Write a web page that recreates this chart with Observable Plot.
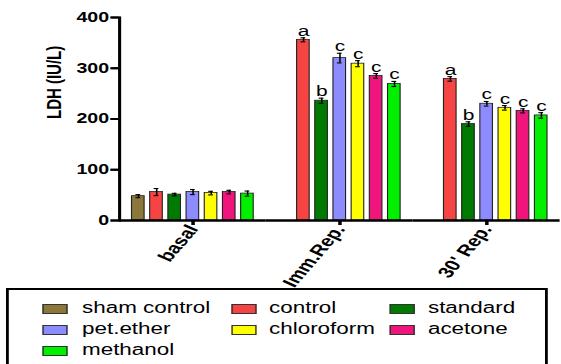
<!DOCTYPE html>
<html>
<head>
<meta charset="utf-8">
<script src="https://cdn.jsdelivr.net/npm/d3@7"></script>
<script src="https://cdn.jsdelivr.net/npm/@observablehq/plot@0.6"></script>
<style>
  body { margin: 0; background: #fff; font-family: "Liberation Sans", Arial, sans-serif; }
  #wrap { position: relative; width: 561px; height: 364px; overflow: hidden; }
  #legend { position: absolute; left: 6px; top: 288px; width: 387px; height: 100px; border: 2px solid #000;
            box-sizing: border-box; transform: scaleX(1.4); transform-origin: 0 0; background: #fff; }
  .item { position: absolute; font-size: 16px; line-height: 16px; white-space: nowrap; color: #000; }
  .sw { position: absolute; width: 17.9px; height: 10px; border: 1px solid #333; box-sizing: border-box; }
</style>
</head>
<body>
<div id="wrap"><div id="chart"></div><div id="legend"></div></div>
<script>
const groups = ["basal", "Imm.Rep.", "30' Rep."];
const series = ["sham control", "control", "standard", "pet.ether", "chloroform", "acetone", "methanol"];
const colors = ["#8B773A", "#F64444", "#007A00", "#8C8CFF", "#FFFF00", "#F0157C", "#00F000"];
const yTicks = [0, 100, 200, 300, 400];
const yLabel = "LDH (IU/L)";
// values per series for [basal, Imm.Rep., 30' Rep.]
const shamControl = [48, null, null];
const control     = [56, 356, 279];
const standard    = [51, 236, 190];
const petEther    = [56, 320, 230];
const chloroform  = [54, 309, 222];
const acetone     = [56, 285, 216];
const methanol    = [53, 269, 207];
// error (±) per series
const errSham       = [3, null, null];
const errControl    = [7, 4, 4.5];
const errStandard   = [2.5, 5, 4.5];
const errPetEther   = [5, 9.5, 4.5];
const errChloroform = [3.5, 6, 4.5];
const errAcetone    = [3.5, 4.5, 4];
const errMethanol   = [5, 5, 5.5];
// significance letters
const letters = {
  "control":    ["", "a", "a"],
  "standard":   ["", "b", "b"],
  "pet.ether":  ["", "c", "c"],
  "chloroform": ["", "c", "c"],
  "acetone":    ["", "c", "c"],
  "methanol":   ["", "c", "c"]
};

const vals = [shamControl, control, standard, petEther, chloroform, acetone, methanol];
const errs = [errSham, errControl, errStandard, errPetEther, errChloroform, errAcetone, errMethanol];
const data = [];
series.forEach((s, i) => groups.forEach((g, j) => {
  if (vals[i][j] != null) data.push({series: s, group: g, value: vals[i][j], err: errs[i][j],
    letter: (letters[s] || [])[j] || ""});
}));

const W = 401, H = 290, ML = 84, MR = 0, TICK = 6;
const facetW = (W - ML - MR) / groups.length;
const chart = Plot.plot({
  width: W, height: H,
  marginLeft: ML, marginRight: MR, marginTop: 17, marginBottom: 70,
  style: {fontFamily: "'Liberation Sans', Arial, sans-serif", color: "#000", background: "#fff", overflow: "visible"},
  fx: {domain: groups, padding: 0},
  x: {domain: series, paddingInner: 0.316, paddingOuter: 0.553, axis: null},
  y: {domain: [0, 400]},
  color: {domain: series, range: colors},
  marks: [
    Plot.barY(data, {fx: "group", x: "series", y: "value", fill: "series", stroke: "#222", strokeWidth: 0.8}),
    Plot.ruleX(data, {fx: "group", x: "series", y1: d => d.value - d.err, y2: d => d.value + d.err, stroke: "#000", strokeWidth: 1.1}),
    Plot.tickY(data, {fx: "group", x: "series", y: d => d.value + d.err, insetLeft: 2.8, insetRight: 2.8, stroke: "#000", strokeWidth: 1.1}),
    Plot.tickY(data, {fx: "group", x: "series", y: d => d.value - d.err, insetLeft: 2.8, insetRight: 2.8, stroke: "#000", strokeWidth: 1.1}),
    Plot.text(data.filter(d => d.letter), {fx: "group", x: "series", y: d => d.value + d.err, text: "letter",
      dy: -2, lineAnchor: "bottom", fontSize: 15, fill: "#000"}),
    Plot.ruleY([0], {stroke: "#000", strokeWidth: 2.5}),
    Plot.frame({anchor: "left", facetAnchor: "left", stroke: "#000", strokeWidth: 2.2}),
    // y tick marks: a short rule in the leftmost facet, shifted into the left margin
    Plot.ruleY(yTicks, {y: d => d, facetAnchor: "left", insetRight: facetW - TICK, dx: -TICK,
      stroke: "#000", strokeWidth: 2, clip: false}),
    Plot.axisY(yTicks, {tickSize: TICK, tickPadding: 1.5, fontSize: 14, fontWeight: "bold", stroke: "#000",
      strokeWidth: 2, label: null}),
    Plot.text([yLabel], {frameAnchor: "left", facetAnchor: "left", rotate: -90, dx: -47, fontSize: 15,
      fontWeight: "bold", fill: "#000"}),
    Plot.axisFx({anchor: "bottom", tickRotate: -58, tickSize: 5, tickPadding: 1, fontSize: 15.5, fontWeight: "bold",
      strokeWidth: 2.5, label: null})
  ]
});
chart.setAttribute("width", 561);
chart.setAttribute("height", H);
chart.setAttribute("preserveAspectRatio", "none");
chart.style.width = "561px";
chart.style.height = H + "px";
chart.style.maxWidth = "none";
document.getElementById("chart").appendChild(chart);

// legend
const legend = document.getElementById("legend");
const colX = [[24.4, 52.3], [159.4, 185.9], [272.3, 299.4]];
const rowY = [19, 40, 61];
series.forEach((s, i) => {
  const c = i % 3, r = Math.floor(i / 3);
  const sw = document.createElement("div");
  sw.className = "sw";
  sw.style.left = colX[c][0] + "px";
  sw.style.top = (rowY[r] - 5) + "px";
  sw.style.background = colors[i];
  legend.appendChild(sw);
  const t = document.createElement("div");
  t.className = "item";
  t.style.left = colX[c][1] + "px";
  t.style.top = (rowY[r] - 9) + "px";
  t.textContent = s;
  legend.appendChild(t);
});
</script>
</body>
</html>
